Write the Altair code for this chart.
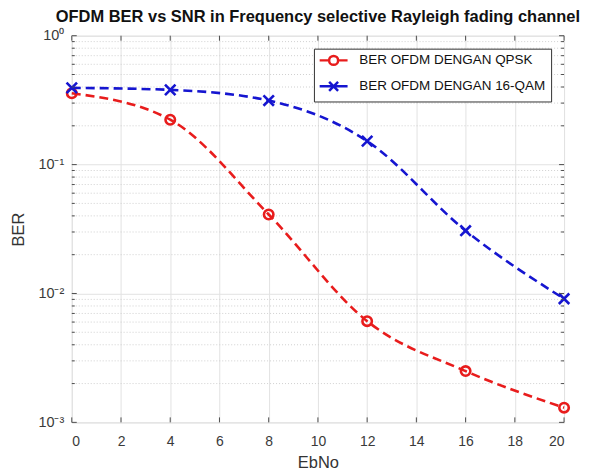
import altair as alt
import pandas as pd

# ---- data ----
ebno = [0, 4, 8, 12, 16, 20]
ber_qpsk = [0.358, 0.223, 0.041, 0.0061, 0.0025, 0.0013]
ber_16qam = [0.394, 0.38, 0.314, 0.152, 0.0307, 0.0091]
series_names = ["BER OFDM DENGAN QPSK", "BER OFDM DENGAN 16-QAM"]
series_colors = ["#e81c1c", "#1515d0"]

x_ticks = [0, 2, 4, 6, 8, 10, 12, 14, 16, 18, 20]
y_ticks = [0.001, 0.01, 0.1, 1]
y_tick_labels = ["10\u207b\u00b3", "10\u207b\u00b2", "10\u207b\u00b9", "10\u2070"]
y_minor = [m * d for d in [0.001, 0.01, 0.1] for m in [2, 3, 4, 5, 6, 7, 8, 9]]

W, H = 494, 388
FONT = "Liberation Sans"

rows = []
for n, vals in zip(series_names, [ber_qpsk, ber_16qam]):
    for e, b in zip(ebno, vals):
        rows.append({"ebno": e, "ber": b, "series": n})
df = pd.DataFrame(rows)
minor_df = pd.DataFrame({"ber": y_minor})
major_df = pd.DataFrame({"ber": y_ticks})
xt_df = pd.DataFrame({"ebno": x_ticks})

label_js = "[" + ",".join("'" + s + "'" for s in y_tick_labels) + "]"

x_scale = alt.Scale(domain=[0, 20], nice=False, zero=False)
y_scale = alt.Scale(type="log", domain=[0.001, 1], nice=False)

x_axis = alt.Axis(values=x_ticks, title="EbNo", grid=True, gridColor="#e2e2e2",
                  ticks=False, domain=False, labelFontSize=14, labelPadding=12,
                  labelColor="#3a3a3a", titleFontSize=16.5, titleFontWeight="normal",
                  titleColor="#333", titlePadding=6, labelFont=FONT, titleFont=FONT)
y_axis = alt.Axis(values=y_ticks, title="BER", grid=True, gridColor="#e2e2e2",
                  ticks=False, domain=False, labelFontSize=14.5, labelPadding=8,
                  labelColor="#3a3a3a", titleFontSize=16.5, titleFontWeight="normal",
                  titleColor="#333", titlePadding=11, labelFont=FONT, titleFont=FONT,
                  labelExpr=label_js + "[round(log(datum.value)/LN10)+3]")

X = alt.X("ebno:Q", scale=x_scale, axis=x_axis)
Y = alt.Y("ber:Q", scale=y_scale, axis=y_axis)

minor_grid = alt.Chart(minor_df).mark_rule(color="#d0d0d0", strokeDash=[1, 2], strokeWidth=1).encode(y=Y)

tick_col = "#4d4d4d"
y_major_ticks_l = alt.Chart(major_df).mark_rule(color=tick_col).encode(y=Y, x=alt.value(0), x2=alt.value(5))
y_major_ticks_r = alt.Chart(major_df).mark_rule(color=tick_col).encode(y=Y, x=alt.value(W - 5), x2=alt.value(W))
y_minor_ticks_l = alt.Chart(minor_df).mark_rule(color=tick_col).encode(y=Y, x=alt.value(0), x2=alt.value(3))
y_minor_ticks_r = alt.Chart(minor_df).mark_rule(color=tick_col).encode(y=Y, x=alt.value(W - 3), x2=alt.value(W))
x_ticks_b = alt.Chart(xt_df).mark_rule(color=tick_col).encode(x=X, y=alt.value(H - 5), y2=alt.value(H))
x_ticks_t = alt.Chart(xt_df).mark_rule(color=tick_col).encode(x=X, y=alt.value(0), y2=alt.value(5))

marker_paths = ["circle", "M-1,-1L1,1M-1,1L1,-1"]
marker_sizes = [90, 110]
legend_paths = [
    "M-2.8,0L-0.9,0M0.9,0L2.8,0M-0.9,0A0.9,0.9,0,1,1,0.9,0A0.9,0.9,0,1,1,-0.9,0",
    "M-2.8,0L2.8,0M-0.9,-0.9L0.9,0.9M-0.9,0.9L0.9,-0.9",
]

layers = [minor_grid]
for n, c, mp, ms in zip(series_names, series_colors, marker_paths, marker_sizes):
    base = alt.Chart(df).transform_filter(alt.datum.series == n)
    line = base.mark_line(color=c, strokeWidth=2.6, strokeDash=[9, 5],
                          interpolate="monotone").encode(x=X, y=Y)
    pts = base.mark_point(color=c, shape=mp, size=ms, strokeWidth=2.6,
                          filled=False, opacity=1).encode(x=X, y=Y)
    layers += [line, pts]

leg = alt.Legend(orient="none", legendX=243, legendY=13, title=None,
                 strokeColor="#333", fillColor="white", padding=5,
                 labelFontSize=13.5, labelFont=FONT, labelColor="#111",
                 labelLimit=400, symbolStrokeWidth=2.5, symbolSize=100,
                 symbolOffset=8, labelOffset=19, rowPadding=6,
                 labelExpr="datum.label + '\u00a0\u00a0\u00a0\u00a0'")
legend_layer = alt.Chart(df).transform_filter("false").mark_point(
    filled=False, opacity=1, strokeWidth=2.5, size=100).encode(
    x=X, y=Y,
    color=alt.Color("series:N", scale=alt.Scale(domain=series_names, range=series_colors), legend=leg),
    shape=alt.Shape("series:N", scale=alt.Scale(domain=series_names, range=legend_paths), legend=leg),
)
layers += [legend_layer, y_major_ticks_l, y_major_ticks_r, y_minor_ticks_l,
           y_minor_ticks_r, x_ticks_b, x_ticks_t]

chart = alt.layer(*layers).properties(
    width=W, height=H,
    title=alt.TitleParams("OFDM BER vs SNR in Frequency selective Rayleigh fading channel",
                          fontSize=16.5, fontWeight="bold", font=FONT, color="#111",
                          anchor="middle", offset=2),
    padding={"left": 3, "top": 0, "right": 0, "bottom": 0},
).configure_view(stroke="#4d4d4d", strokeWidth=1).configure(background="white")

chart.save("out.html", embed_options={"renderer": "svg", "actions": False})
